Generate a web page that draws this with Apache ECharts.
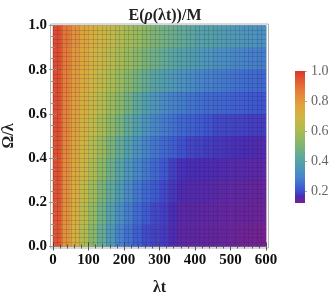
<!DOCTYPE html>
<html><head><meta charset="utf-8">
<script src="https://cdn.jsdelivr.net/npm/echarts@6/dist/echarts.min.js"></script>
<style>html,body{margin:0;padding:0;background:#fff;}#c{width:332px;height:296px;}</style>
</head><body><div id="c"></div>
<script>
// λt cell centres (cells 25 wide) and Ω/λ cell centres (cells 0.1 tall)
const lambdaT = [12.5,37.5,62.5,87.5,112.5,137.5,162.5,187.5,212.5,237.5,262.5,287.5,312.5,337.5,362.5,387.5,412.5,437.5,462.5,487.5,512.5,537.5,562.5,587.5];
const omega = [0.05,0.15,0.25,0.35,0.45,0.55,0.65,0.75,0.85,0.95];
// E(ρ(λt))/M, one array per Ω/λ row
const row005 = [0.945,0.82,0.718,0.621,0.528,0.442,0.364,0.296,0.261,0.231,0.203,0.193,0.185,0.165,0.151,0.149,0.147,0.145,0.143,0.14,0.137,0.134,0.131,0.129];
const row015 = [0.948,0.824,0.728,0.638,0.552,0.47,0.394,0.331,0.282,0.248,0.223,0.199,0.189,0.17,0.154,0.152,0.15,0.148,0.146,0.144,0.142,0.14,0.138,0.136];
const row025 = [0.95,0.831,0.742,0.658,0.577,0.502,0.434,0.372,0.317,0.275,0.243,0.22,0.199,0.18,0.163,0.16,0.158,0.156,0.153,0.151,0.148,0.146,0.143,0.141];
const row035 = [0.952,0.838,0.753,0.679,0.607,0.536,0.469,0.406,0.355,0.305,0.272,0.243,0.218,0.19,0.173,0.17,0.168,0.166,0.163,0.161,0.158,0.156,0.154,0.151];
const row045 = [0.954,0.846,0.764,0.693,0.628,0.564,0.501,0.442,0.386,0.341,0.297,0.269,0.245,0.227,0.209,0.197,0.192,0.187,0.182,0.177,0.172,0.168,0.165,0.162];
const row055 = [0.956,0.853,0.776,0.712,0.652,0.595,0.543,0.49,0.434,0.385,0.344,0.304,0.281,0.26,0.244,0.233,0.222,0.21,0.2,0.197,0.194,0.192,0.189,0.186];
const row065 = [0.958,0.86,0.785,0.728,0.675,0.625,0.576,0.529,0.48,0.427,0.383,0.35,0.317,0.293,0.28,0.267,0.254,0.246,0.241,0.235,0.23,0.224,0.218,0.213];
const row075 = [0.96,0.866,0.795,0.745,0.695,0.65,0.605,0.564,0.525,0.485,0.444,0.404,0.381,0.36,0.34,0.319,0.299,0.289,0.28,0.27,0.261,0.251,0.246,0.242];
const row085 = [0.962,0.874,0.807,0.759,0.714,0.673,0.635,0.597,0.563,0.53,0.497,0.469,0.442,0.414,0.393,0.378,0.363,0.349,0.334,0.319,0.304,0.296,0.289,0.283];
const row095 = [0.964,0.881,0.819,0.771,0.729,0.69,0.657,0.623,0.591,0.562,0.532,0.503,0.481,0.46,0.44,0.419,0.399,0.39,0.381,0.371,0.362,0.353,0.344,0.335];
const rows = [row005,row015,row025,row035,row045,row055,row065,row075,row085,row095];
const xTicks = [0,100,200,300,400,500,600];
const yTicks = [0,0.2,0.4,0.6,0.8,1.0];
const barTicks = [0.2,0.4,0.6,0.8,1.0];
const cbMin = 0.125, cbMax = 1.0;

const rainbow = ['#78208e','#4a2cb6','#3e55d0','#4070d0','#4886c8','#4c93be','#53a0aa','#60a899','#70b083','#84b56c','#98b95c','#acbb50','#bfb948','#cfb442','#d9ac3d','#e0a03b','#e4903a','#e67d37','#e46834','#e05030','#db342b'];

const heat = [];
rows.forEach((r, j) => r.forEach((v, i) => heat.push([i, j, v])));

const serif = 'Liberation Serif, Times New Roman, serif';
const L = 53, T = 25.5, W = 213, H = 221;
const chart = echarts.init(document.getElementById('c'), null, {renderer: 'canvas'});
const stops = rainbow.map((c, k) => ({offset: 1 - k / (rainbow.length - 1), color: c}));
const g = (o) => Object.assign({outerBoundsMode: 'none', containLabel: false}, o);

chart.setOption({
  animation: false,
  title: {
    text: '{b|E(}{i|ρ}{b|(λt))/M}', left: 160, top: 3, textAlign: 'center',
    textStyle: {rich: {
      b: {fontFamily: serif, fontWeight: 'bold', fontSize: 16, color: '#222'},
      i: {fontFamily: serif, fontWeight: 'bold', fontStyle: 'italic', fontSize: 16, color: '#222'}
    }}
  },
  grid: [
    g({left: L, top: T, width: W, height: H}),
    g({left: L, top: T, width: W, height: H}),
    g({left: L, top: T, width: W, height: H}),
    g({left: 50.5, top: 24, width: 218, height: 224, show: true, borderColor: '#b4b4b4', borderWidth: 1}),
    g({left: 295, top: 71, width: 10, height: 132})
  ],
  xAxis: [
    {type: 'category', gridIndex: 0, data: lambdaT, show: false},
    {type: 'value', gridIndex: 1, min: 0, max: 600, interval: 12.5, z: 5,
      axisLine: {show: false}, axisTick: {show: false}, axisLabel: {show: false},
      splitLine: {show: true, lineStyle: {color: 'rgba(30,30,60,0.17)', width: 1}}},
    {type: 'value', gridIndex: 2, min: 0, max: 600, interval: 100, position: 'bottom', z: 6,
      name: 'λt', nameLocation: 'middle', nameGap: 33,
      nameTextStyle: {fontFamily: serif, fontWeight: 'bold', fontSize: 16, color: '#222'},
      axisLine: {show: false},
      axisTick: {show: true, inside: true, length: 4, lineStyle: {color: '#444'}},
      minorTick: {show: true, splitNumber: 5, length: 2, lineStyle: {color: '#444'}},
      axisLabel: {fontFamily: serif, fontWeight: 'bold', fontSize: 15, color: '#111', margin: 6},
      splitLine: {show: false}},
    {type: 'value', gridIndex: 2, min: 0, max: 600, interval: 100, position: 'top', z: 6,
      axisLine: {show: false}, axisLabel: {show: false}, splitLine: {show: false},
      axisTick: {show: true, inside: true, length: 4, lineStyle: {color: '#555'}},
      minorTick: {show: true, splitNumber: 5, length: 2, lineStyle: {color: '#555'}}},
    {type: 'value', gridIndex: 3, show: false},
    {type: 'category', gridIndex: 4, data: ['c'], show: false}
  ],
  yAxis: [
    {type: 'category', gridIndex: 0, data: omega, show: false},
    {type: 'value', gridIndex: 1, min: 0, max: 1, interval: 0.02, z: 5,
      axisLine: {show: false}, axisTick: {show: false}, axisLabel: {show: false},
      splitLine: {show: true, lineStyle: {color: 'rgba(30,30,60,0.17)', width: 1}}},
    {type: 'value', gridIndex: 2, min: 0, max: 1, interval: 0.2, position: 'left', z: 6,
      name: 'Ω/λ', nameLocation: 'middle', nameGap: 31, nameRotate: 90,
      nameTextStyle: {fontFamily: serif, fontWeight: 'bold', fontSize: 16, color: '#222'},
      axisLine: {show: false},
      axisTick: {show: true, inside: true, length: 4, lineStyle: {color: '#888'}},
      minorTick: {show: true, splitNumber: 4, length: 2, lineStyle: {color: '#888'}},
      axisLabel: {fontFamily: serif, fontWeight: 'bold', fontSize: 15, color: '#111', margin: 6,
        formatter: v => v.toFixed(1)},
      splitLine: {show: false}},
    {type: 'value', gridIndex: 2, min: 0, max: 1, interval: 0.2, position: 'right', z: 6,
      axisLine: {show: false}, axisLabel: {show: false}, splitLine: {show: false},
      axisTick: {show: true, inside: true, length: 4, lineStyle: {color: '#999'}},
      minorTick: {show: true, splitNumber: 4, length: 2, lineStyle: {color: '#999'}}},
    {type: 'value', gridIndex: 3, show: false},
    {type: 'value', gridIndex: 4, min: cbMin, max: cbMax, position: 'right',
      axisLine: {show: false}, splitLine: {show: false},
      axisTick: {show: true, customValues: barTicks, length: 2, lineStyle: {color: '#aaa'}},
      axisLabel: {customValues: barTicks, fontFamily: serif, fontSize: 14, color: '#666', margin: 6,
        formatter: v => v.toFixed(1)}}
  ],
  visualMap: {show: false, type: 'continuous', min: cbMin, max: cbMax, seriesIndex: 0, inRange: {color: rainbow}},
  series: [
    {type: 'heatmap', xAxisIndex: 0, yAxisIndex: 0, data: heat, itemStyle: {borderWidth: 0}, silent: true},
    {type: 'bar', xAxisIndex: 5, yAxisIndex: 5, stack: 'cb', barWidth: '100%', silent: true,
      data: [cbMin], itemStyle: {color: 'rgba(0,0,0,0)'}},
    {type: 'bar', xAxisIndex: 5, yAxisIndex: 5, stack: 'cb', barWidth: '100%', silent: true,
      data: [cbMax - cbMin], itemStyle: {color: new echarts.graphic.LinearGradient(0, 0, 0, 1, stops)}}
  ]
});
</script></body></html>
